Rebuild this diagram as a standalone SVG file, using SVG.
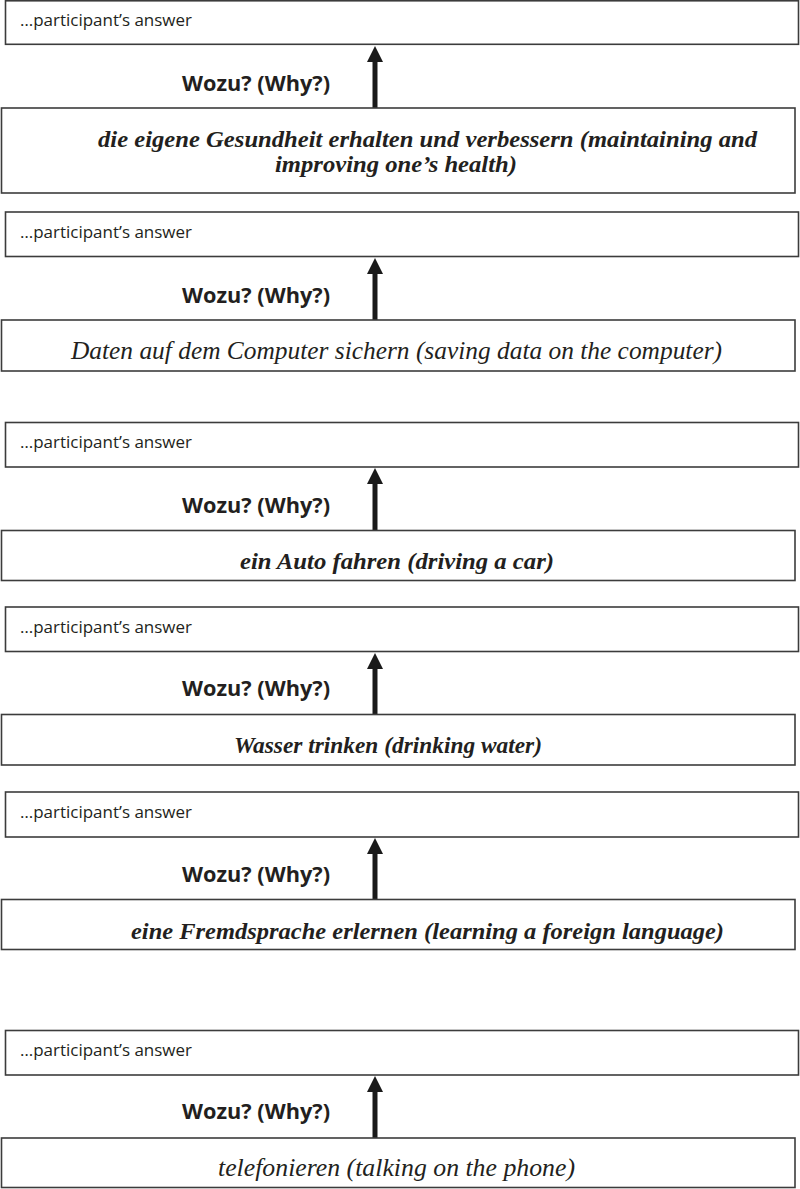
<svg xmlns="http://www.w3.org/2000/svg" width="800" height="1189" viewBox="0 0 800 1189">
<defs>
<style>
.box{fill:#fff;stroke:#3c3c3c;stroke-width:1.6}
.ans{font-family:'Open Sans','Liberation Sans',sans-serif;font-size:16.5px;fill:#231f20}
.why{font-family:'Open Sans','Liberation Sans',sans-serif;font-size:21px;font-weight:bold;fill:#231f20}
.q{font-family:'Liberation Serif',serif;font-size:23px;font-style:italic;font-weight:bold;fill:#231f20}
.qc{font-family:'Liberation Serif',serif;font-size:25px;font-style:italic;fill:#231f20}
.arr{stroke:#1a1a1a;stroke-width:5;fill:none}
.head{fill:#1a1a1a}
</style>
</defs>
<rect width="800" height="1189" fill="#fff"/>

<g id="connectors">
<line class="arr" x1="375" y1="108" x2="375" y2="58"/><polygon class="head" points="375,46 383,62 367,62"/>
<line class="arr" x1="375" y1="320" x2="375" y2="270"/><polygon class="head" points="375,258 383,274 367,274"/>
<line class="arr" x1="375" y1="530" x2="375" y2="480"/><polygon class="head" points="375,468 383,484 367,484"/>
<line class="arr" x1="375" y1="715" x2="375" y2="665"/><polygon class="head" points="375,653 383,669 367,669"/>
<line class="arr" x1="375" y1="900" x2="375" y2="850"/><polygon class="head" points="375,838 383,854 367,854"/>
<line class="arr" x1="375" y1="1138" x2="375" y2="1088"/><polygon class="head" points="375,1076 383,1092 367,1092"/>
</g>

<g id="answer1"><rect class="box" x="5.5" y="0.8" width="793" height="43.5"/><text class="ans" x="20" y="26" textLength="172" lengthAdjust="spacingAndGlyphs">…participant’s answer</text></g>
<g id="why1"><text class="why" x="182" y="91" textLength="148" lengthAdjust="spacingAndGlyphs">Wozu? (Why?)</text></g>
<g id="q1"><rect class="box" x="1.5" y="108" width="793.5" height="85"/>
<text class="q" x="98" y="147" textLength="659" lengthAdjust="spacingAndGlyphs">die eigene Gesundheit erhalten und verbessern (maintaining and</text>
<text class="q" x="275" y="172" textLength="242" lengthAdjust="spacingAndGlyphs">improving one’s health)</text></g>

<g id="answer2"><rect class="box" x="5.5" y="212" width="793" height="44.5"/><text class="ans" x="20" y="238" textLength="172" lengthAdjust="spacingAndGlyphs">…participant’s answer</text></g>
<g id="why2"><text class="why" x="182" y="303" textLength="148" lengthAdjust="spacingAndGlyphs">Wozu? (Why?)</text></g>
<g id="q2"><rect class="box" x="1.5" y="320" width="793.5" height="51"/>
<text class="qc" x="71" y="359" textLength="651" lengthAdjust="spacingAndGlyphs">Daten auf dem Computer sichern (saving data on the computer)</text></g>

<g id="answer3"><rect class="box" x="5.5" y="422.5" width="793" height="44.5"/><text class="ans" x="20" y="448" textLength="172" lengthAdjust="spacingAndGlyphs">…participant’s answer</text></g>
<g id="why3"><text class="why" x="182" y="513" textLength="148" lengthAdjust="spacingAndGlyphs">Wozu? (Why?)</text></g>
<g id="q3"><rect class="box" x="1.5" y="530.5" width="793.5" height="50"/>
<text class="q" x="240" y="569" textLength="314" lengthAdjust="spacingAndGlyphs">ein Auto fahren (driving a car)</text></g>

<g id="answer4"><rect class="box" x="5.5" y="607" width="793" height="44.5"/><text class="ans" x="20" y="633" textLength="172" lengthAdjust="spacingAndGlyphs">…participant’s answer</text></g>
<g id="why4"><text class="why" x="182" y="696" textLength="148" lengthAdjust="spacingAndGlyphs">Wozu? (Why?)</text></g>
<g id="q4"><rect class="box" x="1.5" y="714.5" width="793.5" height="50.5"/>
<text class="q" x="234" y="753" textLength="308" lengthAdjust="spacingAndGlyphs">Wasser trinken (drinking water)</text></g>

<g id="answer5"><rect class="box" x="5.5" y="792" width="793" height="45"/><text class="ans" x="20" y="818" textLength="172" lengthAdjust="spacingAndGlyphs">…participant’s answer</text></g>
<g id="why5"><text class="why" x="182" y="882" textLength="148" lengthAdjust="spacingAndGlyphs">Wozu? (Why?)</text></g>
<g id="q5"><rect class="box" x="1.5" y="899.5" width="793.5" height="50"/>
<text class="q" x="131" y="939" textLength="593" lengthAdjust="spacingAndGlyphs">eine Fremdsprache erlernen (learning a foreign language)</text></g>

<g id="answer6"><rect class="box" x="5.5" y="1030.5" width="793" height="44.5"/><text class="ans" x="20" y="1056" textLength="172" lengthAdjust="spacingAndGlyphs">…participant’s answer</text></g>
<g id="why6"><text class="why" x="182" y="1119" textLength="148" lengthAdjust="spacingAndGlyphs">Wozu? (Why?)</text></g>
<g id="q6"><rect class="box" x="1.5" y="1138" width="793.5" height="49.5"/>
<text class="qc" x="218" y="1176" textLength="357" lengthAdjust="spacingAndGlyphs">telefonieren (talking on the phone)</text></g>
</svg>
